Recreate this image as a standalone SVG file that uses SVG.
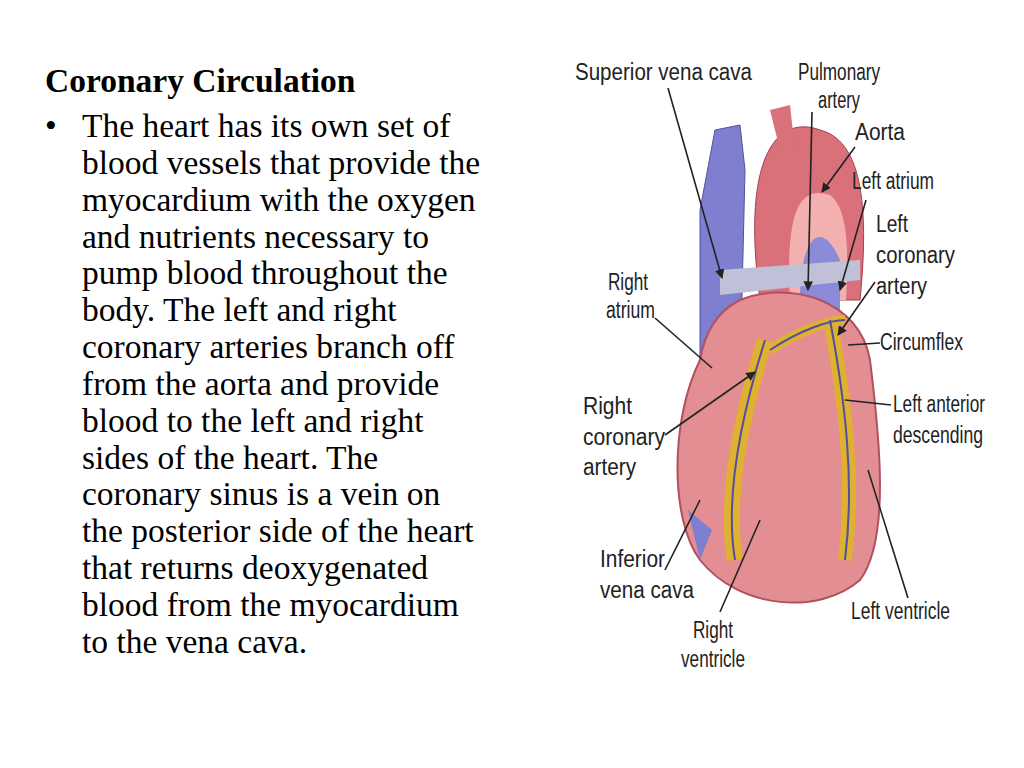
<svg xmlns="http://www.w3.org/2000/svg" width="1024" height="768" viewBox="0 0 1024 768">
<style>
.t{font-family:"Liberation Serif",serif;font-size:33.5px;fill:#000}
.l{font-family:"Liberation Sans",sans-serif;font-size:23px;fill:#222}
.ld{stroke:#222;stroke-width:1.6;fill:none}
</style>
<defs><marker id="a" viewBox="0 0 10 10" refX="9" refY="5" markerWidth="6" markerHeight="6" orient="auto"><path d="M0,0L10,5L0,10z" fill="#222"/></marker></defs>
<rect width="1024" height="768" fill="#fff"/>
<g id="text">
<text class="t" x="45" y="92" font-weight="bold" font-size="31">Coronary Circulation</text>
<text class="t" x="45" y="137">•</text>
<text class="t" x="82"><tspan x="82" y="137">The heart has its own set of</tspan><tspan x="82" y="174">blood vessels that provide the</tspan><tspan x="82" y="211">myocardium with the oxygen</tspan><tspan x="82" y="248">and nutrients necessary to</tspan><tspan x="82" y="284">pump blood throughout the</tspan><tspan x="82" y="321">body. The left and right</tspan><tspan x="82" y="358">coronary arteries branch off</tspan><tspan x="82" y="395">from the aorta and provide</tspan><tspan x="82" y="432">blood to the left and right</tspan><tspan x="82" y="469">sides of the heart. The</tspan><tspan x="82" y="505">coronary sinus is a vein on</tspan><tspan x="82" y="542">the posterior side of the heart</tspan><tspan x="82" y="579">that returns deoxygenated</tspan><tspan x="82" y="616">blood from the myocardium</tspan><tspan x="82" y="653">to the vena cava.</tspan></text>
</g>
<g id="heart">
<path d="M700,210 L700,380 L740,380 L745,170 L740,125 L715,130 Z" fill="#7f7fd0" stroke="#5050a0"/>
<path d="M760,300 C740,150 780,115 820,130 C860,140 870,200 860,300 Z" fill="#d9707a" stroke="#a04050"/>
<path d="M790,300 C785,210 800,185 830,195 C850,210 848,260 846,300 Z" fill="#f2b0b0"/>
<path d="M800,300 C800,240 820,215 840,260 L840,310 Z" fill="#8a8ad8"/>
<path d="M770,110 L780,150 L795,150 L790,105 Z" fill="#d9707a"/>
<path d="M700,360 C670,420 670,520 700,560 C740,610 820,615 860,580 C890,540 880,440 870,360 C860,300 790,280 740,300 C720,310 705,330 700,360 Z" fill="#e38e92" stroke="#b05060" stroke-width="2"/>
<path d="M720,270 L860,260 L860,280 L720,295 Z" fill="#c0c0d8"/>
<path d="M765,340 C740,420 725,500 735,560" stroke="#e0b030" stroke-width="16" fill="none"/>
<path d="M830,320 C845,400 855,480 845,560" stroke="#e0b030" stroke-width="14" fill="none"/>
<path d="M770,350 C800,330 830,320 845,320" stroke="#e0b030" stroke-width="10" fill="none"/>
<path d="M765,340 C740,420 725,500 735,560 M830,320 C845,400 855,480 845,560 M770,350 C800,330 830,320 845,320" stroke="#5050a0" stroke-width="2" fill="none"/>
<path d="M688,510 L700,560 L712,530 Z" fill="#7f7fd0"/>
</g>
<g id="labels" lengthAdjust="spacingAndGlyphs">
<text class="l" x="575" y="80" textLength="177" lengthAdjust="spacingAndGlyphs">Superior vena cava</text>
<text class="l" x="798" y="80" textLength="82" lengthAdjust="spacingAndGlyphs">Pulmonary</text>
<text class="l" x="818" y="108" textLength="42" lengthAdjust="spacingAndGlyphs">artery</text>
<text class="l" x="855" y="140" font-size="26" textLength="50" lengthAdjust="spacingAndGlyphs">Aorta</text>
<text class="l" x="852" y="189" textLength="82" lengthAdjust="spacingAndGlyphs">Left atrium</text>
<text class="l" x="876" y="232" font-size="26" textLength="32" lengthAdjust="spacingAndGlyphs">Left</text>
<text class="l" x="876" y="263" font-size="26" textLength="79" lengthAdjust="spacingAndGlyphs">coronary</text>
<text class="l" x="876" y="294" font-size="26" textLength="51" lengthAdjust="spacingAndGlyphs">artery</text>
<text class="l" x="880" y="350" textLength="83" lengthAdjust="spacingAndGlyphs">Circumflex</text>
<text class="l" x="893" y="412" textLength="92" lengthAdjust="spacingAndGlyphs">Left anterior</text>
<text class="l" x="893" y="443" textLength="90" lengthAdjust="spacingAndGlyphs">descending</text>
<text class="l" x="608" y="290" textLength="40" lengthAdjust="spacingAndGlyphs">Right</text>
<text class="l" x="606" y="318" textLength="49" lengthAdjust="spacingAndGlyphs">atrium</text>
<text class="l" x="583" y="414" font-size="26" textLength="49" lengthAdjust="spacingAndGlyphs">Right</text>
<text class="l" x="583" y="445" font-size="26" textLength="82" lengthAdjust="spacingAndGlyphs">coronary</text>
<text class="l" x="583" y="475" font-size="26" textLength="53" lengthAdjust="spacingAndGlyphs">artery</text>
<text class="l" x="600" y="567" font-size="26" textLength="65" lengthAdjust="spacingAndGlyphs">Inferior</text>
<text class="l" x="600" y="598" font-size="26" textLength="94" lengthAdjust="spacingAndGlyphs">vena cava</text>
<text class="l" x="693" y="638" textLength="40" lengthAdjust="spacingAndGlyphs">Right</text>
<text class="l" x="681" y="667" textLength="64" lengthAdjust="spacingAndGlyphs">ventricle</text>
<text class="l" x="851" y="619" textLength="99" lengthAdjust="spacingAndGlyphs">Left ventricle</text>
</g>
<g id="connectors">
<path class="ld" marker-end="url(#a)" d="M668,88 L722,278"/>
<path class="ld" marker-end="url(#a)" d="M812,112 L808,290"/>
<path class="ld" marker-end="url(#a)" d="M855,147 L822,192"/>
<path class="ld" marker-end="url(#a)" d="M866,200 L840,290"/>
<path class="ld" marker-end="url(#a)" d="M875,282 L838,335"/>
<path class="ld" d="M880,343 L848,345"/>
<path class="ld" d="M891,405 L845,400"/>
<path class="ld" d="M655,318 L712,368"/>
<path class="ld" marker-end="url(#a)" d="M665,435 L755,372"/>
<path class="ld" d="M665,570 L700,500"/>
<path class="ld" d="M720,612 L760,520"/>
<path class="ld" d="M908,598 L868,470"/>
</g>
</svg>
